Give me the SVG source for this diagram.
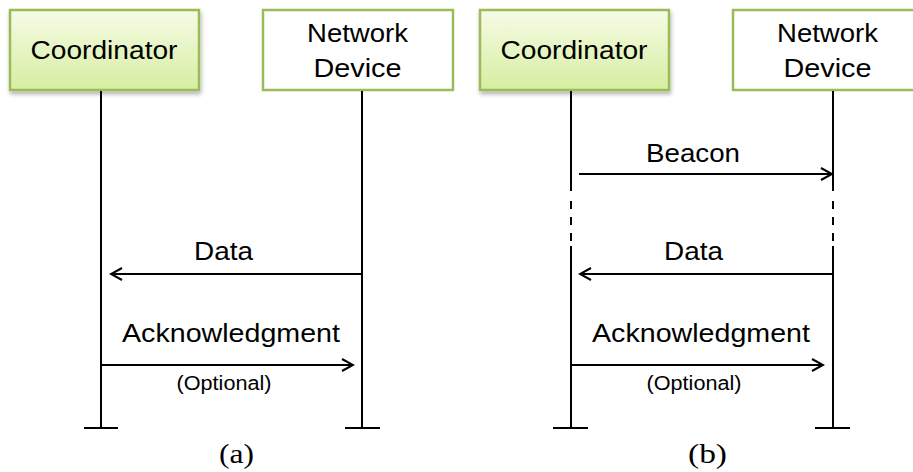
<svg xmlns="http://www.w3.org/2000/svg" width="913" height="472" viewBox="0 0 913 472">
<style>
.lbl{font-family:"Liberation Sans",Arial,sans-serif;font-size:26px;fill:#000;text-anchor:middle}
.opt{font-family:"Liberation Sans",Arial,sans-serif;font-size:19.5px;fill:#000;text-anchor:middle}
.cap{font-family:"Liberation Serif","Times New Roman",serif;font-size:28px;fill:#000;text-anchor:middle}
.life{stroke:#000;stroke-width:2;fill:none}
.msg{stroke:#000;stroke-width:2;fill:none}
.boxg{fill:url(#gr);stroke:#9bbb59;stroke-width:2.5}
.boxw{fill:#fff;stroke:#9bbb59;stroke-width:2.5}
</style>
<defs>
<linearGradient id="gr" x1="0" y1="0" x2="0" y2="1">
<stop offset="0" stop-color="#f6fbe6"/>
<stop offset="1" stop-color="#d6eea0"/>
</linearGradient>
<filter id="sh" x="-10%" y="-10%" width="130%" height="140%">
<feGaussianBlur in="SourceAlpha" stdDeviation="2"/>
<feOffset dx="1" dy="3" result="b"/>
<feComponentTransfer><feFuncA type="linear" slope="0.3"/></feComponentTransfer>
<feMerge><feMergeNode/><feMergeNode in="SourceGraphic"/></feMerge>
</filter>
<marker id="ah" viewBox="0 0 14 14" refX="12" refY="7" markerWidth="14" markerHeight="14" markerUnits="userSpaceOnUse" orient="auto">
<path d="M1,1 L12,7 L1,13" fill="none" stroke="#000" stroke-width="2"/>
</marker>
</defs>
<rect width="913" height="472" fill="#fff"/>

<g id="coordinator-a">
<rect class="boxg" x="10" y="10" width="189" height="80" filter="url(#sh)"/>
<text class="lbl" x="104" y="59" textLength="147" lengthAdjust="spacingAndGlyphs">Coordinator</text>
</g>
<g id="device-a">
<rect class="boxw" x="263" y="10" width="190" height="80"/>
<text class="lbl" x="357.5" y="42" textLength="101" lengthAdjust="spacingAndGlyphs">Network</text>
<text class="lbl" x="357.5" y="77" textLength="88" lengthAdjust="spacingAndGlyphs">Device</text>
</g>
<g id="coordinator-b">
<rect class="boxg" x="480" y="10" width="189" height="80" filter="url(#sh)"/>
<text class="lbl" x="574" y="59" textLength="147" lengthAdjust="spacingAndGlyphs">Coordinator</text>
</g>
<g id="device-b">
<rect class="boxw" x="733" y="10" width="190" height="80"/>
<text class="lbl" x="827.5" y="42" textLength="101" lengthAdjust="spacingAndGlyphs">Network</text>
<text class="lbl" x="827.5" y="77" textLength="88" lengthAdjust="spacingAndGlyphs">Device</text>
</g>

<g id="lifelines">
<line class="life" x1="101" y1="91" x2="101" y2="428"/>
<line class="life" x1="84" y1="428" x2="118" y2="428"/>
<line class="life" x1="362" y1="91" x2="362" y2="428"/>
<line class="life" x1="345" y1="428" x2="380" y2="428"/>
<line class="life" x1="571" y1="91" x2="571" y2="191"/>
<line class="life" x1="571" y1="201" x2="571" y2="209"/>
<line class="life" x1="571" y1="217" x2="571" y2="225"/>
<line class="life" x1="571" y1="233" x2="571" y2="241"/>
<line class="life" x1="571" y1="246" x2="571" y2="428"/>
<line class="life" x1="553" y1="428" x2="588" y2="428"/>
<line class="life" x1="833" y1="91" x2="833" y2="191"/>
<line class="life" x1="833" y1="201" x2="833" y2="209"/>
<line class="life" x1="833" y1="217" x2="833" y2="225"/>
<line class="life" x1="833" y1="233" x2="833" y2="241"/>
<line class="life" x1="833" y1="246" x2="833" y2="428"/>
<line class="life" x1="815" y1="428" x2="850" y2="428"/>
</g>

<g id="connectors">
<line class="msg" x1="362" y1="274" x2="111" y2="274" marker-end="url(#ah)"/>
<line class="msg" x1="101" y1="365" x2="353" y2="365" marker-end="url(#ah)"/>
<line class="msg" x1="579" y1="174" x2="832" y2="174" marker-end="url(#ah)"/>
<line class="msg" x1="833" y1="274" x2="580" y2="274" marker-end="url(#ah)"/>
<line class="msg" x1="571" y1="365" x2="823" y2="365" marker-end="url(#ah)"/>
</g>

<g id="labels">
<text class="lbl" x="223.5" y="260" textLength="59" lengthAdjust="spacingAndGlyphs">Data</text>
<text class="lbl" x="231" y="342" textLength="218" lengthAdjust="spacingAndGlyphs">Acknowledgment</text>
<text class="opt" x="224" y="390" textLength="95" lengthAdjust="spacingAndGlyphs">(Optional)</text>
<text class="lbl" x="693" y="162" textLength="94" lengthAdjust="spacingAndGlyphs">Beacon</text>
<text class="lbl" x="693.5" y="260" textLength="59" lengthAdjust="spacingAndGlyphs">Data</text>
<text class="lbl" x="701" y="342" textLength="218" lengthAdjust="spacingAndGlyphs">Acknowledgment</text>
<text class="opt" x="694" y="390" textLength="95" lengthAdjust="spacingAndGlyphs">(Optional)</text>
<text class="cap" x="236.5" y="463" textLength="35" lengthAdjust="spacingAndGlyphs">(a)</text>
<text class="cap" x="707.5" y="463" textLength="39" lengthAdjust="spacingAndGlyphs">(b)</text>
</g>
</svg>
